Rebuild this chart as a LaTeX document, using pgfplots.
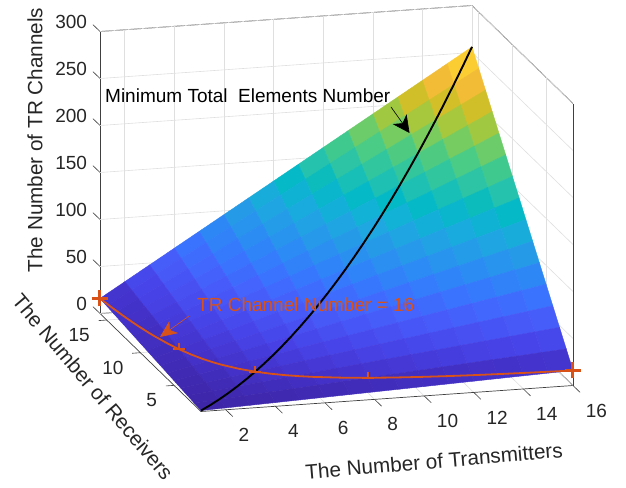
\documentclass[border=0pt]{standalone}
\usepackage{fontspec}
\setmainfont{Liberation Sans}
\usepackage{pgfplots}
\pgfplotsset{compat=1.18}
\usetikzlibrary{arrows.meta}
\definecolor{matorange}{rgb}{0.851,0.325,0.098}
\definecolor{axgray}{gray}{0.25}
\pgfplotsset{colormap={parulaold}{
rgb=(0.2422,0.1504,0.6603) rgb=(0.2647,0.1978,0.7952) rgb=(0.2783,0.2559,0.8991) rgb=(0.2810,0.3228,0.9579)
rgb=(0.2699,0.3892,0.9906) rgb=(0.2206,0.4603,0.9973) rgb=(0.1786,0.5289,0.9682) rgb=(0.1540,0.5902,0.9218)
rgb=(0.1248,0.6459,0.8883) rgb=(0.0689,0.6948,0.8394) rgb=(0.0067,0.7312,0.7660) rgb=(0.1408,0.7584,0.6842)
rgb=(0.2161,0.7843,0.5923) rgb=(0.3406,0.8008,0.4789) rgb=(0.5044,0.7993,0.3480) rgb=(0.6720,0.7793,0.2227)
rgb=(0.8203,0.7498,0.1535) rgb=(0.9393,0.7288,0.2100) rgb=(0.9970,0.7659,0.2199) rgb=(0.9786,0.8386,0.1766)
rgb=(0.9597,0.9135,0.1423) rgb=(0.9769,0.9839,0.0805)}}
\pgfdeclareplotmark{halfplus}{%
  \pgfpathmoveto{\pgfqpoint{0pt}{0pt}}\pgfpathlineto{\pgfqpoint{0pt}{6pt}}
  \pgfpathmoveto{\pgfqpoint{-6pt}{0pt}}\pgfpathlineto{\pgfqpoint{6pt}{0pt}}
  \pgfusepathqstroke}
\pgfdeclareplotmark{bigplus}{%
  \pgfpathmoveto{\pgfqpoint{0pt}{-8pt}}\pgfpathlineto{\pgfqpoint{0pt}{8pt}}
  \pgfpathmoveto{\pgfqpoint{-8pt}{0pt}}\pgfpathlineto{\pgfqpoint{8pt}{0pt}}
  \pgfusepathqstroke}
\begin{document}
\begin{tikzpicture}
\path[use as bounding box] (0,0) rectangle (626pt,487pt);
\begin{axis}[
  at={(100pt,75.5pt)}, anchor=south west,
  x={(24.8pt,1.733pt)}, y={(-6.733pt,6.533pt)}, z={(0pt,0.94pt)},
  xmin=1,xmax=16,ymin=1,ymax=16,zmin=0,zmax=300,
  xtick={2,4,...,16}, ytick={5,10,15}, ztick={0,50,...,300},
  xtick pos=left, ytick pos=left, ztick pos=left,
  grid=major, grid style={draw=gray!25, line width=0.6pt},
  major tick length=0pt,
  axis line style={draw=axgray, line width=0.7pt},
  clip=false,
  /pgf/number format/assume math mode=true,
  tick label style={font=\fontsize{19}{21}\selectfont, text=black!85, inner sep=0pt, outer sep=0pt},
  xticklabel style={anchor=west, xshift=12.8pt, yshift=-25pt},
  yticklabel style={anchor=east, xshift=-17pt, yshift=-15pt},
  zticklabel style={anchor=east, xshift=-13pt, yshift=10pt},
  xlabel={The Number of Transmitters},
  ylabel={The Number of Receivers},
  zlabel={The Number of TR Channels},
  label style={font=\fontsize{20.7}{23}\selectfont, text=black!85},
  xlabel style={at={(axis cs:7.846,-8.39,0)}, anchor=center, rotate=4.9},
  ylabel style={at={(axis cs:-2.113,5.576,0)}, anchor=center, rotate=-49.7},
  zlabel style={at={(axis cs:-1.62,16,189.4)}, anchor=center},
  colormap name=parulaold,
]
\pgfplotsinvokeforeach{2,4,...,16}{\draw[axgray, line width=0.6pt] (axis cs:#1,1,0) -- (axis cs:#1,-0.05,0);}
\pgfplotsinvokeforeach{5,10,15}{\draw[axgray, line width=0.6pt] (axis cs:1,#1,0) -- (axis cs:0.67,#1,0);}
\pgfplotsinvokeforeach{0,50,...,300}{\draw[axgray, line width=0.6pt] (axis cs:1,16,#1) -- (axis cs:1,17.05,#1);}
\addplot3[surf, shader=flat corner, z buffer=default, mesh/rows=16, mesh/cols=16,
  point meta=z, point meta min=1, point meta max=256] coordinates {
(1,1,1)(2,1,2)(3,1,3)(4,1,4)(5,1,5)(6,1,6)(7,1,7)(8,1,8)(9,1,9)(10,1,10)(11,1,11)(12,1,12)(13,1,13)(14,1,14)(15,1,15)(16,1,16)
(1,2,2)(2,2,4)(3,2,6)(4,2,8)(5,2,10)(6,2,12)(7,2,14)(8,2,16)(9,2,18)(10,2,20)(11,2,22)(12,2,24)(13,2,26)(14,2,28)(15,2,30)(16,2,32)
(1,3,3)(2,3,6)(3,3,9)(4,3,12)(5,3,15)(6,3,18)(7,3,21)(8,3,24)(9,3,27)(10,3,30)(11,3,33)(12,3,36)(13,3,39)(14,3,42)(15,3,45)(16,3,48)
(1,4,4)(2,4,8)(3,4,12)(4,4,16)(5,4,20)(6,4,24)(7,4,28)(8,4,32)(9,4,36)(10,4,40)(11,4,44)(12,4,48)(13,4,52)(14,4,56)(15,4,60)(16,4,64)
(1,5,5)(2,5,10)(3,5,15)(4,5,20)(5,5,25)(6,5,30)(7,5,35)(8,5,40)(9,5,45)(10,5,50)(11,5,55)(12,5,60)(13,5,65)(14,5,70)(15,5,75)(16,5,80)
(1,6,6)(2,6,12)(3,6,18)(4,6,24)(5,6,30)(6,6,36)(7,6,42)(8,6,48)(9,6,54)(10,6,60)(11,6,66)(12,6,72)(13,6,78)(14,6,84)(15,6,90)(16,6,96)
(1,7,7)(2,7,14)(3,7,21)(4,7,28)(5,7,35)(6,7,42)(7,7,49)(8,7,56)(9,7,63)(10,7,70)(11,7,77)(12,7,84)(13,7,91)(14,7,98)(15,7,105)(16,7,112)
(1,8,8)(2,8,16)(3,8,24)(4,8,32)(5,8,40)(6,8,48)(7,8,56)(8,8,64)(9,8,72)(10,8,80)(11,8,88)(12,8,96)(13,8,104)(14,8,112)(15,8,120)(16,8,128)
(1,9,9)(2,9,18)(3,9,27)(4,9,36)(5,9,45)(6,9,54)(7,9,63)(8,9,72)(9,9,81)(10,9,90)(11,9,99)(12,9,108)(13,9,117)(14,9,126)(15,9,135)(16,9,144)
(1,10,10)(2,10,20)(3,10,30)(4,10,40)(5,10,50)(6,10,60)(7,10,70)(8,10,80)(9,10,90)(10,10,100)(11,10,110)(12,10,120)(13,10,130)(14,10,140)(15,10,150)(16,10,160)
(1,11,11)(2,11,22)(3,11,33)(4,11,44)(5,11,55)(6,11,66)(7,11,77)(8,11,88)(9,11,99)(10,11,110)(11,11,121)(12,11,132)(13,11,143)(14,11,154)(15,11,165)(16,11,176)
(1,12,12)(2,12,24)(3,12,36)(4,12,48)(5,12,60)(6,12,72)(7,12,84)(8,12,96)(9,12,108)(10,12,120)(11,12,132)(12,12,144)(13,12,156)(14,12,168)(15,12,180)(16,12,192)
(1,13,13)(2,13,26)(3,13,39)(4,13,52)(5,13,65)(6,13,78)(7,13,91)(8,13,104)(9,13,117)(10,13,130)(11,13,143)(12,13,156)(13,13,169)(14,13,182)(15,13,195)(16,13,208)
(1,14,14)(2,14,28)(3,14,42)(4,14,56)(5,14,70)(6,14,84)(7,14,98)(8,14,112)(9,14,126)(10,14,140)(11,14,154)(12,14,168)(13,14,182)(14,14,196)(15,14,210)(16,14,224)
(1,15,15)(2,15,30)(3,15,45)(4,15,60)(5,15,75)(6,15,90)(7,15,105)(8,15,120)(9,15,135)(10,15,150)(11,15,165)(12,15,180)(13,15,195)(14,15,210)(15,15,225)(16,15,240)
(1,16,16)(2,16,32)(3,16,48)(4,16,64)(5,16,80)(6,16,96)(7,16,112)(8,16,128)(9,16,144)(10,16,160)(11,16,176)(12,16,192)(13,16,208)(14,16,224)(15,16,240)(16,16,256)
};
% minimum total elements: transmitters = receivers
\addplot3[black, line width=1.9pt, no marks] coordinates {
(1,1,1)(1.5,1.5,2.25)(2,2,4)(2.5,2.5,6.25)(3,3,9)(3.5,3.5,12.25)(4,4,16)(4.5,4.5,20.25)(5,5,25)(5.5,5.5,30.25)(6,6,36)(6.5,6.5,42.25)(7,7,49)(7.5,7.5,56.25)(8,8,64)(8.5,8.5,72.25)(9,9,81)(9.5,9.5,90.25)(10,10,100)(10.5,10.5,110.25)(11,11,121)(11.5,11.5,132.25)(12,12,144)(12.5,12.5,156.25)(13,13,169)(13.5,13.5,182.25)(14,14,196)(14.5,14.5,210.25)(15,15,225)(15.5,15.5,240.25)(16,16,256)};
% TR channel number = 16
\addplot3[matorange, line width=1.8pt, no marks] coordinates {
(1,16,16)(1.1,14.545,16)(1.2,13.333,16)(1.3,12.308,16)(1.4,11.429,16)(1.5,10.667,16)(1.6,10,16)(1.8,8.889,16)(2,8,16)(2.25,7.111,16)(2.5,6.4,16)(2.75,5.818,16)(3,5.333,16)(3.5,4.571,16)(4,4,16)(4.5,3.556,16)(5,3.2,16)(5.5,2.909,16)(6,2.667,16)(7,2.286,16)(8,2,16)(9,1.778,16)(10,1.6,16)(11,1.455,16)(12,1.333,16)(13,1.231,16)(14,1.143,16)(15,1.067,16)(16,1,16)};
\addplot3[matorange, line width=3pt, only marks, mark=bigplus, mark options={line width=3pt, solid}] coordinates {(1,16,16)(16,1,16)};
\addplot3[matorange, line width=2pt, only marks, mark=halfplus, mark options={line width=2pt, solid}] coordinates {(2,8,16)(4,4,16)(8,2,16)};
\end{axis}
\node[font=\fontsize{19}{21}\selectfont, text=black, anchor=west, inner sep=0pt] at (105pt,391pt) {Minimum Total\ \ Elements Number};
\node[font=\fontsize{19}{21}\selectfont, text=matorange, anchor=west, inner sep=0pt] at (197pt,182pt) {TR Channel Number = 16};
\draw[black, line width=0.6pt, -{Stealth[length=17pt,width=17pt,inset=5pt]}] (391pt,380pt) -- (409.5pt,354pt);
\draw[matorange, line width=0.6pt, -{Stealth[length=17pt,width=15pt,inset=5pt]}] (189pt,171pt) -- (160pt,150pt);
\end{tikzpicture}
\end{document}
